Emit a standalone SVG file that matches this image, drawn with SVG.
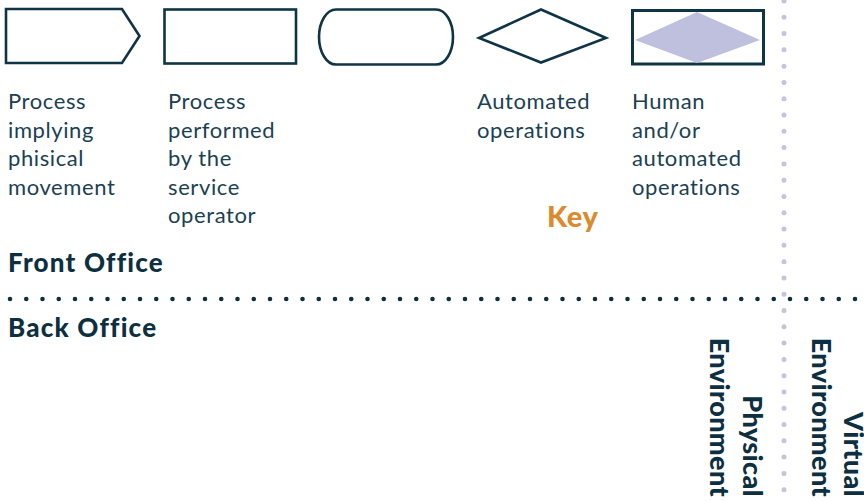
<svg xmlns="http://www.w3.org/2000/svg" width="864" height="501" viewBox="0 0 864 501">
<style>
.shape{fill:none;stroke:#0e3445;stroke-width:2.6;stroke-linejoin:miter}
.lbl{font-family:Lato,"Noto Sans",sans-serif;font-size:22px;fill:#1b4152;letter-spacing:0.6px}
.hdr{font-family:Lato,"Noto Sans",sans-serif;font-size:26px;font-weight:900;fill:#0d2f40;letter-spacing:1.2px}
.env{font-family:Lato,"Noto Sans",sans-serif;font-size:27px;font-weight:900;fill:#0d2f40;letter-spacing:0.4px}
.key{font-family:Lato,"Noto Sans",sans-serif;font-size:29px;font-weight:900;fill:#dc8a2e;letter-spacing:0.6px}
</style>
<rect width="864" height="501" fill="#ffffff"/>
<g id="connectors">
<line x1="784" y1="1" x2="784" y2="501" stroke="#c4c3e0" stroke-width="5" stroke-linecap="round" stroke-dasharray="0 16.29"/>
<line x1="10" y1="299" x2="864" y2="299" stroke="#0d2f40" stroke-width="4.6" stroke-linecap="round" stroke-dasharray="0 16.25"/>
</g>
<g id="key-physical">
<polygon class="shape" points="6,9 122,9 139.5,36 122,63 6,63"/>
<text class="lbl" x="8" y="109">Process</text>
<text class="lbl" x="8" y="137.5">implying</text>
<text class="lbl" x="8" y="166">phisical</text>
<text class="lbl" x="8" y="194.5">movement</text>
</g>
<g id="key-operator">
<rect class="shape" x="164.5" y="9.5" width="131.5" height="54" stroke-width="3"/>
<text class="lbl" x="168" y="109">Process</text>
<text class="lbl" x="168" y="137.5">performed</text>
<text class="lbl" x="168" y="166">by the</text>
<text class="lbl" x="168" y="194.5">service</text>
<text class="lbl" x="168" y="223">operator</text>
</g>
<g id="key-terminal">
<path class="shape" d="M336,9.5 H436 A17,27.5 0 0 1 436,64.5 H336 A17,27.5 0 0 1 336,9.5 Z"/>
</g>
<g id="key-automated">
<polygon class="shape" points="479,38 541,9.5 606,38 541,62.5"/>
<text class="lbl" x="477" y="109">Automated</text>
<text class="lbl" x="477" y="137.5">operations</text>
</g>
<g id="key-human">
<rect x="632.5" y="10.5" width="131" height="53.5" fill="none" stroke="#0e3445" stroke-width="3"/>
<polygon points="635,40 697,12 760,40 697,63" fill="#bfc0de"/>
<text class="lbl" x="632" y="109">Human</text>
<text class="lbl" x="632" y="137.5">and/or</text>
<text class="lbl" x="632" y="166">automated</text>
<text class="lbl" x="632" y="194.5">operations</text>
</g>
<g id="key-title">
<text class="key" x="547" y="227">Key</text>
</g>
<g id="front-office">
<text class="hdr" x="8" y="272">Front Office</text>
</g>
<g id="back-office">
<text class="hdr" x="8" y="337">Back Office</text>
</g>
<g id="physical-environment">
<text class="env" transform="translate(743,497) rotate(90)" text-anchor="end">Physical</text>
<text class="env" transform="translate(710,497) rotate(90)" text-anchor="end">Environment</text>
</g>
<g id="virtual-environment">
<text class="env" transform="translate(844,497) rotate(90)" text-anchor="end">Virtual</text>
<text class="env" transform="translate(812,497) rotate(90)" text-anchor="end">Environment</text>
</g>
</svg>
